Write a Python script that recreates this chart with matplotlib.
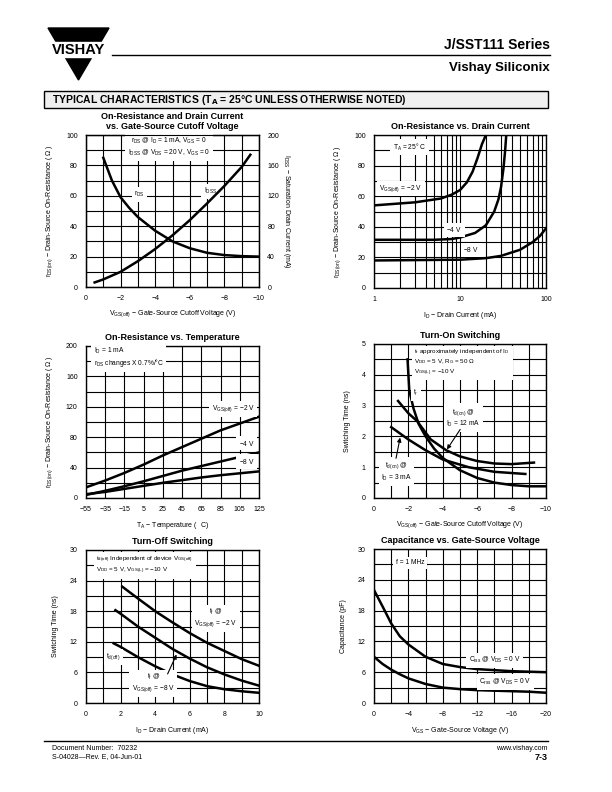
import matplotlib
matplotlib.use('Agg')
import matplotlib.pyplot as plt
from matplotlib.ticker import NullFormatter
from matplotlib.patches import Polygon, Rectangle

plt.rcParams['font.family'] = ['Liberation Sans', 'DejaVu Sans']
plt.rcParams['mathtext.fontset'] = 'custom'
plt.rcParams['mathtext.rm'] = 'Liberation Sans'
plt.rcParams['mathtext.it'] = 'Liberation Sans'
plt.rcParams['mathtext.default'] = 'regular'

# --- chart 1: on-resistance and IDSS vs VGS(off)
c1_rds_x = [-1, -1.5, -2, -2.5, -3, -4, -5, -6, -7, -8, -9, -10]
c1_rds_y = [85, 70, 59, 52, 46, 37, 30, 25.5, 22.5, 21, 20.3, 20]
c1_idss_x = [-0.5, -1, -2, -3, -4, -5, -6, -7, -8, -9, -9.5]
c1_idss_y = [6, 10, 20, 34, 50, 68, 88, 110, 133, 158, 174]

# --- chart 2: on-resistance vs drain current
c2_m2_x = [1, 3, 6, 8, 10, 12, 14, 16, 18, 20]
c2_m2_y = [54, 56, 58.5, 61, 64, 69, 76, 85, 94, 100]
c2_m4_x = [1, 5, 8, 10, 15, 20, 25, 28, 30, 32, 33.5, 34.5]
c2_m4_y = [31.5, 31.5, 32, 33, 36, 41, 50, 58, 66, 78, 90, 100]
c2_m8_x = [1, 10, 20, 30, 50, 70, 85, 100]
c2_m8_y = [18, 18.5, 19.5, 21, 25, 30, 34, 39]

# --- chart 3: on-resistance vs temperature
c3_t = [-55, -35, -15, 5, 25, 45, 65, 85, 105, 125]
c3_m2 = [14, 23, 33, 44, 56, 67, 78, 89, 98, 107]
c3_m4 = [4, 9.5, 15.5, 22, 29, 36, 42, 48, 54, 60]
c3_m8 = [5, 8, 12, 16, 20, 23.5, 27, 30, 32.5, 35]

# --- chart 4: turn-on switching
c4_tr_x = [-1.95, -2.05, -2.3, -2.6, -3, -3.5, -4, -5, -6, -7, -8, -9, -10]
c4_tr_y = [4.5, 3.5, 2.9, 2.4, 2.0, 1.6, 1.3, 0.9, 0.65, 0.5, 0.42, 0.38, 0.38]
c4_td12_x = [-1.4, -2, -2.5, -3.3, -4.2, -5, -6, -7, -8, -9.3]
c4_td12_y = [3.15, 2.75, 2.5, 1.9, 1.55, 1.35, 1.2, 1.12, 1.1, 1.15]
c4_td3_x = [-1, -2, -3, -4, -5.5, -7, -8.8]
c4_td3_y = [2.3, 1.9, 1.55, 1.25, 1.0, 0.85, 0.78]

# --- chart 5: turn-off switching
c5_tf2_x = [2.1, 3, 4, 5, 6, 7, 8, 9, 10]
c5_tf2_y = [22.8, 20.5, 18, 15.8, 13.7, 11.8, 10.2, 8.6, 7.3]
c5_tf8_x = [1.7, 2, 3, 4, 5, 6, 7, 8, 9, 10]
c5_tf8_y = [18.2, 17.5, 15, 12.8, 10.6, 8.7, 7.0, 5.6, 4.4, 3.4]
c5_td_x = [1.6, 2, 3, 4, 5, 6, 7, 8, 9, 10]
c5_td_y = [11.7, 11, 9, 7.2, 5.6, 4.3, 3.3, 2.7, 2.3, 2.0]

# --- chart 6: capacitance vs gate-source voltage
c6_v = [0, -1, -2, -3, -4, -6, -8, -10, -12, -14, -16, -18, -20]
c6_ciss = [22, 18.8, 15.5, 13, 11.4, 9, 7.6, 7, 6.6, 6.4, 6.2, 6.1, 6.0]
c6_crss = [9, 7.6, 6.5, 5.6, 4.8, 3.7, 3.0, 2.7, 2.5, 2.4, 2.3, 2.2, 2.0]

W, H = 612, 792
fig = plt.figure(figsize=(W / 100, H / 100), dpi=100)


def box(x0, y0, x1, y1):
    return [x0 / W, 1 - y1 / H, (x1 - x0) / W, (y1 - y0) / H]


def setup(ax, xlim, ylim, xt, xl, yt, yl, xm, ym, title, xlabel, ylabel):
    ax.set_xlim(*xlim)
    ax.set_ylim(*ylim)
    ax.set_xticks(xt)
    ax.set_xticklabels(xl)
    ax.set_yticks(yt)
    ax.set_yticklabels(yl)
    ax.set_xticks(xm, minor=True)
    ax.set_yticks(ym, minor=True)
    ax.xaxis.set_minor_formatter(NullFormatter())
    ax.tick_params(which='both', length=0, labelsize=5, pad=6)
    ax.grid(True, which='both', color='black', lw=0.8)
    ax.set_axisbelow(True)
    for s in ax.spines.values():
        s.set_linewidth(1.0)
    ax.set_title(title, fontsize=6.5, fontweight='bold', pad=4)
    ax.set_xlabel(xlabel, fontsize=5, labelpad=4.5)
    ax.set_ylabel(ylabel, fontsize=5, labelpad=8)


def note(ax, x, y, s, ha='left', fs=4.8):
    ax.text(x, y, s, ha=ha, va='center', fontsize=fs, zorder=4,
            bbox=dict(facecolor='white', edgecolor='none', pad=1.8))


lw = 1.8
rds_lbl = r'r$_{DS(on)}$ $-$ Drain-Source On-Resistance ( $\Omega$ )'

# chart 1
ax = fig.add_axes(box(86, 135, 259, 287))
setup(ax, (0, -10), (0, 100), range(0, -11, -2), ['0', '−2', '−4', '−6', '−8', '−10'],
      range(0, 101, 20), ['0', '20', '40', '60', '80', '100'],
      range(0, -11, -1), range(0, 101, 10),
      'On-Resistance and Drain Current\nvs. Gate-Source Cutoff Voltage',
      r'V$_{GS(off)}$ $-$ Gate-Source Cutoff Voltage (V)', rds_lbl)
ax.plot(c1_rds_x, c1_rds_y, 'k-', lw=lw, zorder=3)
ax2 = ax.twinx()
ax2.set_ylim(0, 200)
ax2.set_yticks(range(0, 201, 40))
ax2.set_yticklabels(['0', '40', '80', '120', '160', '200'])
ax2.tick_params(length=0, labelsize=5, pad=6)
ax2.set_ylabel(r'I$_{DSS}$ $-$ Saturation Drain Current (mA)', fontsize=5, rotation=270, labelpad=9)
ax2.plot(c1_idss_x, c1_idss_y, 'k-', lw=lw, zorder=3)
note(ax, -4.8, 92, r'r$_{DS}$ @ I$_D$ = 1 mA, V$_{GS}$ = 0' + '\n' +
     r'I$_{DSS}$ @ V$_{DS}$ = 20 V, V$_{GS}$ = 0', ha='center')
note(ax, -3.1, 61, r'r$_{DS}$', ha='center')
note(ax, -7.2, 63, r'I$_{DSS}$', ha='center')

# chart 2
ax = fig.add_axes(box(374, 135, 546, 288))
ax.set_xscale('log')
setup(ax, (1, 100), (0, 100), [1, 10, 100], ['1', '10', '100'],
      range(0, 101, 20), ['0', '20', '40', '60', '80', '100'],
      [i * d for d in (1, 10) for i in range(1, 10)], range(0, 101, 10),
      'On-Resistance vs. Drain Current',
      r'I$_D$ $-$ Drain Current (mA)', rds_lbl)
ax.plot(c2_m2_x, c2_m2_y, 'k-', lw=lw, zorder=3)
ax.plot(c2_m4_x, c2_m4_y, 'k-', lw=lw, zorder=3)
ax.plot(c2_m8_x, c2_m8_y, 'k-', lw=lw, zorder=3)
note(ax, 2.6, 92, r'T$_A$ = 25$\degree$ C', ha='center')
note(ax, 1.15, 65, r'V$_{GS(off)}$ = $-$2 V')
note(ax, 8.6, 38, r'$-$4 V', ha='center')
note(ax, 13.5, 25, r'$-$8 V', ha='center')

# chart 3
ax = fig.add_axes(box(86, 346, 259, 498))
setup(ax, (-55, 125), (0, 200), range(-55, 126, 20),
      ['−55', '−35', '−15', '5', '25', '45', '65', '85', '105', '125'],
      range(0, 201, 40), ['0', '40', '80', '120', '160', '200'],
      range(-55, 126, 20), range(0, 201, 20),
      'On-Resistance vs. Temperature',
      r'T$_A$ $-$ Temperature (  C)', rds_lbl)
ax.plot(c3_t, c3_m2, 'k-', lw=lw, zorder=3)
ax.plot(c3_t, c3_m4, 'k-', lw=lw, zorder=3)
ax.plot(c3_t, c3_m8, 'k-', lw=lw, zorder=3)
note(ax, -47, 185, r'I$_D$ = 1 mA' + '\n' + r'r$_{DS}$ changes X 0.7%/$\degree$C')
note(ax, 98, 117, r'V$_{GS(off)}$ = $-$2 V', ha='center')
note(ax, 112, 72, r'$-$4 V', ha='center')
note(ax, 112, 48, r'$-$8 V', ha='center')

# chart 4
ax = fig.add_axes(box(374, 344, 546, 498))
setup(ax, (0, -10), (0, 5), range(0, -11, -2), ['0', '−2', '−4', '−6', '−8', '−10'],
      range(0, 6), ['0', '1', '2', '3', '4', '5'],
      range(0, -11, -1), [i * 0.5 for i in range(11)],
      'Turn-On Switching',
      r'V$_{GS(off)}$ $-$ Gate-Source Cutoff Voltage (V)', 'Switching Time (ns)')
ax.plot(c4_tr_x, c4_tr_y, 'k-', lw=lw, zorder=3)
ax.plot(c4_td12_x, c4_td12_y, 'k-', lw=lw, zorder=3)
ax.plot(c4_td3_x, c4_td3_y, 'k-', lw=lw, zorder=3)
note(ax, -2.35, 4.4, r't$_r$ approximately independent of I$_D$' + '\n' +
     r'V$_{DD}$ = 5 V, R$_G$ = 50 $\Omega$' + '\n' + r'V$_{GS(L)}$ = $-$10 V', fs=4.5)
note(ax, -2.45, 3.4, r't$_r$', ha='center')
note(ax, -5.2, 2.6, r't$_{d(on)}$ @' + '\n' + r'I$_D$ = 12 mA', ha='center')
note(ax, -1.3, 0.85, r't$_{d(on)}$ @' + '\n' + r'I$_D$ = 3 mA', ha='center')
ax.annotate('', xy=(-4.15, 1.5), xytext=(-5.1, 2.3),
            arrowprops=dict(arrowstyle='-|>', color='k', lw=0.8, mutation_scale=6), zorder=5)
ax.annotate('', xy=(-1.55, 2.05), xytext=(-1.25, 1.2),
            arrowprops=dict(arrowstyle='-|>', color='k', lw=0.8, mutation_scale=6), zorder=5)

# chart 5
ax = fig.add_axes(box(86, 550, 259, 703))
setup(ax, (0, 10), (0, 30), range(0, 11, 2), ['0', '2', '4', '6', '8', '10'],
      range(0, 31, 6), ['0', '6', '12', '18', '24', '30'],
      range(0, 11), range(0, 31, 3),
      'Turn-Off Switching',
      r'I$_D$ $-$ Drain Current (mA)', 'Switching Time (ns)')
ax.plot(c5_tf2_x, c5_tf2_y, 'k-', lw=lw, zorder=3)
ax.plot(c5_tf8_x, c5_tf8_y, 'k-', lw=lw, zorder=3)
ax.plot(c5_td_x, c5_td_y, 'k-', lw=lw, zorder=3)
note(ax, 0.6, 27, r't$_{d(off)}$ Independent of device V$_{GS(off)}$' + '\n' +
     r'V$_{DD}$ = 5 V, V$_{GS(L)}$ = $-$10 V', fs=4.5)
note(ax, 7.5, 16.7, r't$_f$ @' + '\n' + r'V$_{GS(off)}$ = $-$2 V', ha='center')
note(ax, 1.6, 9.0, r't$_{d(off)}$', ha='center')
note(ax, 3.9, 3.9, r't$_f$ @' + '\n' + r'V$_{GS(off)}$ = $-$8 V', ha='center')
ax.annotate('', xy=(5.3, 10.0), xytext=(4.65, 5.2),
            arrowprops=dict(arrowstyle='-|>', color='k', lw=0.8, mutation_scale=6), zorder=5)

# chart 6
ax = fig.add_axes(box(374, 549, 546, 703))
setup(ax, (0, -20), (0, 30), range(0, -21, -4), ['0', '−4', '−8', '−12', '−16', '−20'],
      range(0, 31, 6), ['0', '6', '12', '18', '24', '30'],
      range(0, -21, -2), range(0, 31, 3),
      'Capacitance vs. Gate-Source Voltage',
      r'V$_{GS}$ $-$ Gate-Source Voltage (V)', 'Capacitance (pF)')
ax.plot(c6_v, c6_ciss, 'k-', lw=lw, zorder=3)
ax.plot(c6_v, c6_crss, 'k-', lw=lw, zorder=3)
note(ax, -4.2, 27.3, 'f = 1 MHz', ha='center')
note(ax, -14, 8.3, r'C$_{iss}$ @ V$_{DS}$ = 0 V', ha='center')
note(ax, -15.3, 4.1, r'C$_{rss}$ @ V$_{DS}$ = 0 V', ha='center')

# page furniture: header, logo, section bar, footer
pg = fig.add_axes([0, 0, 1, 1])
pg.set_xlim(0, W)
pg.set_ylim(H, 0)
pg.axis('off')
pg.set_zorder(-1)
pg.add_patch(Polygon([(48, 28), (109, 28), (78.5, 80)], closed=True, color='black'))
pg.add_patch(Rectangle((44, 42), 70, 15, color='white'))
pg.text(78.5, 50, 'VISHAY', ha='center', va='center', fontsize=10.5, fontweight='bold')
pg.plot([112, 550], [55, 55], 'k-', lw=1)
pg.text(550, 49, 'J/SST111 Series', ha='right', va='baseline', fontsize=10, fontweight='bold')
pg.text(550, 71, 'Vishay Siliconix', ha='right', va='baseline', fontsize=9.5, fontweight='bold')
pg.add_patch(Rectangle((44, 91), 504, 17, facecolor='#efefef', edgecolor='black', lw=1))
pg.text(52, 100, r'TYPICAL CHARACTERISTICS (T$_\mathbf{A}$ = 25$\degree$C UNLESS OTHERWISE NOTED)',
        ha='left', va='center', fontsize=7.5, fontweight='bold')
pg.plot([44, 548], [741, 741], 'k-', lw=1)
pg.text(52, 749, 'Document Number:  70232', ha='left', va='center', fontsize=5)
pg.text(52, 757, 'S-04028—Rev. E, 04-Jun-01', ha='left', va='center', fontsize=5)
pg.text(548, 749, 'www.vishay.com', ha='right', va='center', fontsize=5)
pg.text(548, 758, '7-3', ha='right', va='center', fontsize=6.5, fontweight='bold')

fig.savefig('out.png', dpi=100)
